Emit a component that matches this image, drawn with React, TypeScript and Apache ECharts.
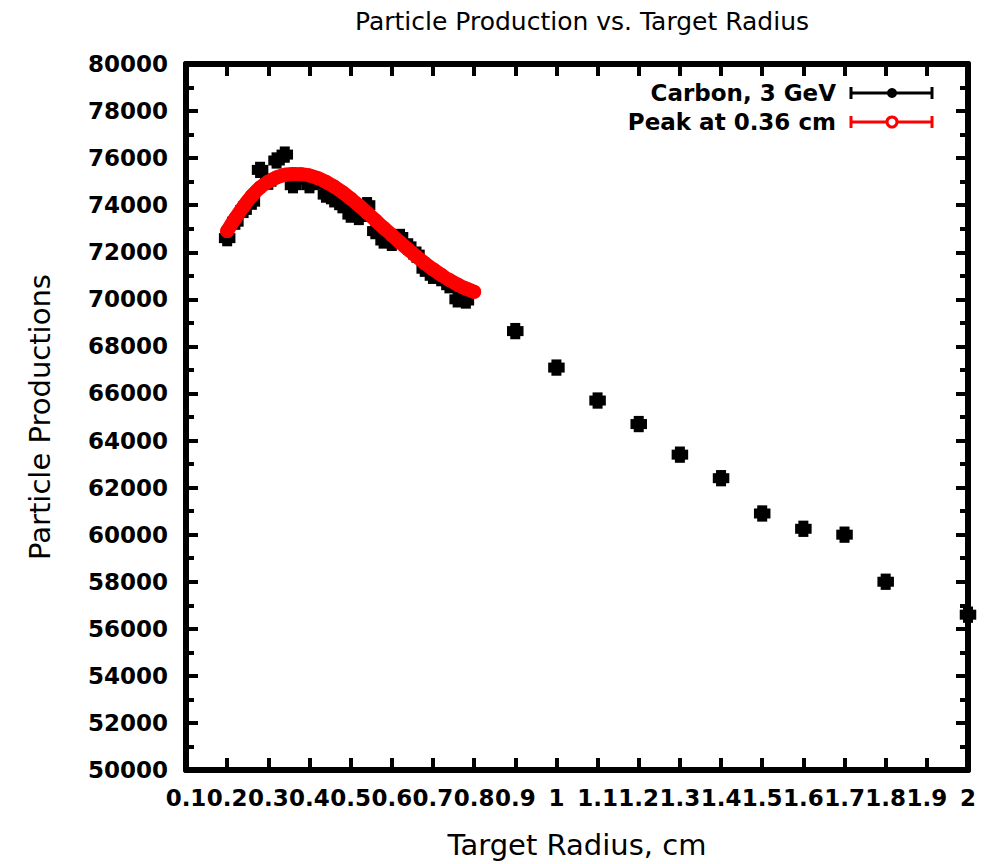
import React, { useEffect, useRef } from "react";
import * as echarts from "echarts";

// ---- Data ----
const carbonX: number[] = [
  0.2, 0.22, 0.24, 0.26, 0.28, 0.3, 0.32, 0.34, 0.36, 0.38, 0.4, 0.42, 0.44, 0.46, 0.48,
  0.5, 0.52, 0.54, 0.56, 0.58, 0.6, 0.62, 0.64, 0.66, 0.68, 0.7, 0.72, 0.74, 0.76, 0.78,
  0.9, 1.0, 1.1, 1.2, 1.3, 1.4, 1.5, 1.6, 1.7, 1.8, 2.0,
];
const carbonY: number[] = [
  72600, 73300, 73800, 74150, 75500, 75000, 75900, 76150, 74850, 75200, 74850, 75000, 74450, 74250, 74000,
  73600, 73500, 74000, 72900, 72500, 72400, 72650, 72250, 71900, 71300, 71000, 70900, 70600, 70000, 69950,
  68650, 67100, 65700, 64700, 63400, 62400, 60900, 60250, 60000, 58000, 56600,
];
const carbonXErr = 0.014;
const carbonYErr = 240;

const fitX: number[] = [
  0.2, 0.22, 0.24, 0.26, 0.28, 0.3, 0.32, 0.34, 0.36, 0.38, 0.4, 0.42, 0.44, 0.46, 0.48,
  0.5, 0.52, 0.54, 0.56, 0.58, 0.6, 0.62, 0.64, 0.66, 0.68, 0.7, 0.72, 0.74, 0.76, 0.78, 0.8,
];
const fitY: number[] = [
  72900, 73450, 73950, 74400, 74750, 75000, 75180, 75290, 75330, 75320, 75260, 75150, 74990, 74790, 74550,
  74280, 73990, 73680, 73360, 73040, 72730, 72420, 72120, 71820, 71540, 71280, 71040, 70820, 70630, 70460, 70320,
];

const titleText = "Particle Production vs. Target Radius";
const xAxisName = "Target Radius, cm";
const yAxisName = "Particle Productions";
const legendNames: string[] = ["Carbon, 3 GeV", "Peak at 0.36 cm"];

const X_MIN = 0.1;
const X_MAX = 2.0;
const X_STEP = 0.1;
const Y_MIN = 50000;
const Y_MAX = 80000;
const Y_STEP = 2000;

const FONT = "DejaVu Sans";

export default function App() {
  const ref = useRef<HTMLDivElement>(null);

  useEffect(() => {
    document.body.style.margin = "0";
    if (!ref.current) return;
    const chart = echarts.init(ref.current, undefined, { renderer: "svg" });

    const axisLine = { show: true, lineStyle: { color: "#000", width: 6 } };
    const tick = { show: true, inside: true, length: 12, lineStyle: { color: "#000", width: 4 } };
    const minorTick = { show: true, splitNumber: 2, length: 8, lineStyle: { color: "#000", width: 4 } };
    const fmtX = (v: number) => String(parseFloat(v.toFixed(1)));
    const fmtY = (v: number) => String(Math.round(v));

    const carbonData = carbonX.map((x, i) => [x, carbonY[i]]);
    const fitData = fitX.map((x, i) => [x, fitY[i]]);

    const renderErr = (params: any, api: any) => {
      const x = api.value(0);
      const y = api.value(1);
      const c = api.coord([x, y]);
      const l = api.coord([x - carbonXErr, y])[0];
      const r = api.coord([x + carbonXErr, y])[0];
      const t = api.coord([x, y + carbonYErr])[1];
      const b = api.coord([x, y - carbonYErr])[1];
      const cap = 5;
      const st = { stroke: "#000", lineWidth: 5 };
      return {
        type: "group",
        children: [
          { type: "line", shape: { x1: l, y1: c[1], x2: r, y2: c[1] }, style: st },
          { type: "line", shape: { x1: l, y1: c[1] - cap, x2: l, y2: c[1] + cap }, style: st },
          { type: "line", shape: { x1: r, y1: c[1] - cap, x2: r, y2: c[1] + cap }, style: st },
          { type: "line", shape: { x1: c[0], y1: t, x2: c[0], y2: b }, style: st },
          { type: "line", shape: { x1: c[0] - cap, y1: t, x2: c[0] + cap, y2: t }, style: st },
          { type: "line", shape: { x1: c[0] - cap, y1: b, x2: c[0] + cap, y2: b }, style: st },
          { type: "circle", shape: { cx: c[0], cy: c[1], r: 5 }, style: { fill: "#000" } },
        ],
      };
    };

    const lgX1 = 851;
    const lgX2 = 932;
    const lgXc = 892;
    const lgY = [93, 122];
    const legendGraphic: any[] = [];
    const colors = ["#000000", "#ff0000"];
    legendNames.forEach((name, i) => {
      const y = lgY[i];
      const st = { stroke: colors[i], lineWidth: 3 };
      legendGraphic.push(
        {
          type: "text",
          style: {
            text: name,
            x: 836,
            y,
            align: "right",
            verticalAlign: "middle",
            fontFamily: FONT,
            fontWeight: "bold",
            fontSize: 23,
            fill: "#000",
          },
        },
        { type: "line", shape: { x1: lgX1, y1: y, x2: lgX2, y2: y }, style: st },
        { type: "line", shape: { x1: lgX1, y1: y - 6, x2: lgX1, y2: y + 6 }, style: st },
        { type: "line", shape: { x1: lgX2, y1: y - 6, x2: lgX2, y2: y + 6 }, style: st },
        i === 0
          ? { type: "circle", shape: { cx: lgXc, cy: y, r: 5 }, style: { fill: "#000" } }
          : { type: "circle", shape: { cx: lgXc, cy: y, r: 5 }, style: { fill: "#fff", stroke: "#ff0000", lineWidth: 3 } }
      );
    });

    chart.setOption({
      animation: false,
      backgroundColor: "#fff",
      title: {
        text: titleText,
        left: 577,
        top: 4,
        textAlign: "center",
        textStyle: { fontFamily: FONT, fontWeight: "normal", fontSize: 25, color: "#000" },
      },
      grid: { left: 186, right: 27, top: 64, bottom: 94, containLabel: false },
      xAxis: [
        {
          type: "value",
          min: X_MIN,
          max: X_MAX,
          interval: X_STEP,
          position: "bottom",
          name: xAxisName,
          nameLocation: "middle",
          nameGap: 60,
          nameTextStyle: { fontFamily: FONT, fontSize: 29, color: "#000" },
          axisLine,
          axisTick: tick,
          splitLine: { show: false },
          axisLabel: {
            show: true,
            interval: 0,
            hideOverlap: false,
            showMinLabel: true,
            showMaxLabel: true,
            margin: 16,
            formatter: fmtX,
            fontFamily: FONT,
            fontWeight: "bold",
            fontSize: 23,
            color: "#000",
          },
        },
        {
          type: "value",
          min: X_MIN,
          max: X_MAX,
          interval: X_STEP,
          position: "top",
          axisLine,
          axisTick: tick,
          splitLine: { show: false },
          axisLabel: { show: false },
        },
      ],
      yAxis: [
        {
          type: "value",
          min: Y_MIN,
          max: Y_MAX,
          interval: Y_STEP,
          position: "left",
          name: yAxisName,
          nameLocation: "middle",
          nameGap: 132,
          nameTextStyle: { fontFamily: FONT, fontSize: 29, color: "#000" },
          axisLine,
          axisTick: tick,
          minorTick,
          splitLine: { show: false },
          minorSplitLine: { show: false },
          axisLabel: {
            margin: 18,
            formatter: fmtY,
            fontFamily: FONT,
            fontWeight: "bold",
            fontSize: 23,
            color: "#000",
          },
        },
        {
          type: "value",
          min: Y_MIN,
          max: Y_MAX,
          interval: Y_STEP,
          position: "right",
          axisLine,
          axisTick: tick,
          minorTick,
          splitLine: { show: false },
          minorSplitLine: { show: false },
          axisLabel: { show: false },
        },
      ],
      series: [
        {
          name: legendNames[0],
          type: "custom",
          xAxisIndex: 0,
          yAxisIndex: 0,
          renderItem: renderErr,
          encode: { x: 0, y: 1 },
          data: carbonData,
          z: 2,
        },
        {
          name: legendNames[1],
          type: "line",
          xAxisIndex: 0,
          yAxisIndex: 0,
          data: fitData,
          smooth: true,
          symbol: "circle",
          symbolSize: 14,
          showSymbol: true,
          lineStyle: { color: "#ff0000", width: 14, cap: "round" },
          itemStyle: { color: "#ff0000" },
          z: 3,
        },
      ],
      graphic: legendGraphic,
    });

    return () => chart.dispose();
  }, []);

  return <div ref={ref} style={{ width: 995, height: 864 }} />;
}
